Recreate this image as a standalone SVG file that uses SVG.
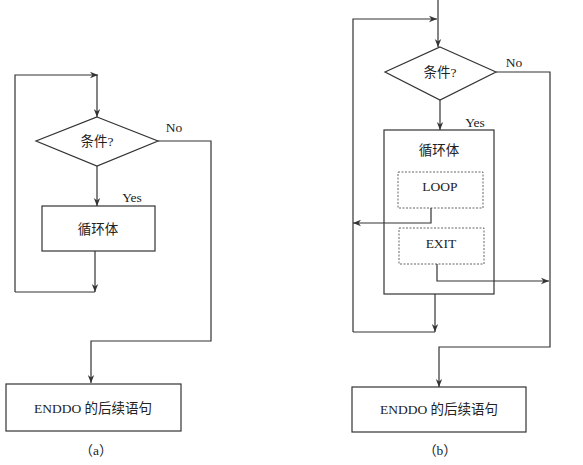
<svg xmlns="http://www.w3.org/2000/svg" width="583" height="465" viewBox="0 0 583 465">
<style>
.ln{fill:none;stroke:#333;stroke-width:1.2}
.box{fill:#fff;stroke:#333;stroke-width:1.2}
.dash{fill:#fff;stroke:#555;stroke-width:0.9;stroke-dasharray:2,1.5}
.t{font-family:"Liberation Serif","Noto Sans CJK SC",serif;font-size:13.5px;fill:#222;text-anchor:middle;dominant-baseline:central}
.arr{marker-end:url(#ah)}
</style>
<defs>
<marker id="ah" viewBox="0 0 10 10" refX="10" refY="5" markerWidth="8" markerHeight="8" markerUnits="userSpaceOnUse" orient="auto">
<path d="M0,1 L10,5 L0,9 L3,5 Z" fill="#333"/>
</marker>
</defs>
<rect width="583" height="465" fill="#fff"/>
<g id="a-cond">
<polygon class="box" points="97,117 158,141 97,166 36,141"/>
<text class="t" x="97" y="141">条件?</text>
</g>
<g id="a-labels">
<text class="t" x="174" y="127">No</text>
<text class="t" x="132" y="197">Yes</text>
</g>
<g id="a-body">
<rect class="box" x="42" y="206" width="113" height="45"/>
<text class="t" x="98" y="229">循环体</text>
</g>
<g id="a-end">
<rect class="box" x="6" y="384" width="175" height="47"/>
<text class="t" x="93" y="408">ENDDO 的后续语句</text>
</g>
<g id="a-caption">
<text class="t" x="96" y="450">（a）</text>
</g>
<g id="b-cond">
<polygon class="box" points="440,47 496,72 440,100 385,72"/>
<text class="t" x="440" y="72">条件?</text>
</g>
<g id="b-labels">
<text class="t" x="514" y="62">No</text>
<text class="t" x="475" y="122">Yes</text>
</g>
<g id="b-body">
<rect class="box" x="384" y="130" width="110" height="164"/>
<text class="t" x="439" y="150">循环体</text>
</g>
<g id="b-loop">
<rect class="dash" x="398" y="172" width="85" height="36"/>
<text class="t" x="440" y="186">LOOP</text>
</g>
<g id="b-exit">
<rect class="dash" x="399" y="228" width="85" height="36"/>
<text class="t" x="441" y="243">EXIT</text>
</g>
<g id="b-end">
<rect class="box" x="352" y="387" width="174" height="45"/>
<text class="t" x="439" y="409">ENDDO 的后续语句</text>
</g>
<g id="b-caption">
<text class="t" x="440" y="450">（b）</text>
</g>
<g id="connectors">
<path class="ln arr" d="M15,292 L15,75 L98,75"/>
<path class="ln arr" d="M97,75 L97,117"/>
<path class="ln arr" d="M97,166 L97,206"/>
<path class="ln arr" d="M95,251 L95,292"/>
<path class="ln" d="M15,292 L95,292"/>
<path class="ln arr" d="M158,141 L211,141 L211,341 L91,341 L91,383"/>
<path class="ln arr" d="M438,0 L438,47"/>
<path class="ln arr" d="M353,332 L353,19 L437,19"/>
<path class="ln arr" d="M440,100 L440,130"/>
<path class="ln arr" d="M435,294 L435,332"/>
<path class="ln" d="M353,332 L435,332"/>
<path class="ln arr" d="M496,72 L550,72 L550,347 L439,347 L439,387"/>
<path class="ln arr" d="M431,208 L431,223 L353,223"/>
<path class="ln arr" d="M437,264 L437,281 L549,281"/>
</g>
</svg>
